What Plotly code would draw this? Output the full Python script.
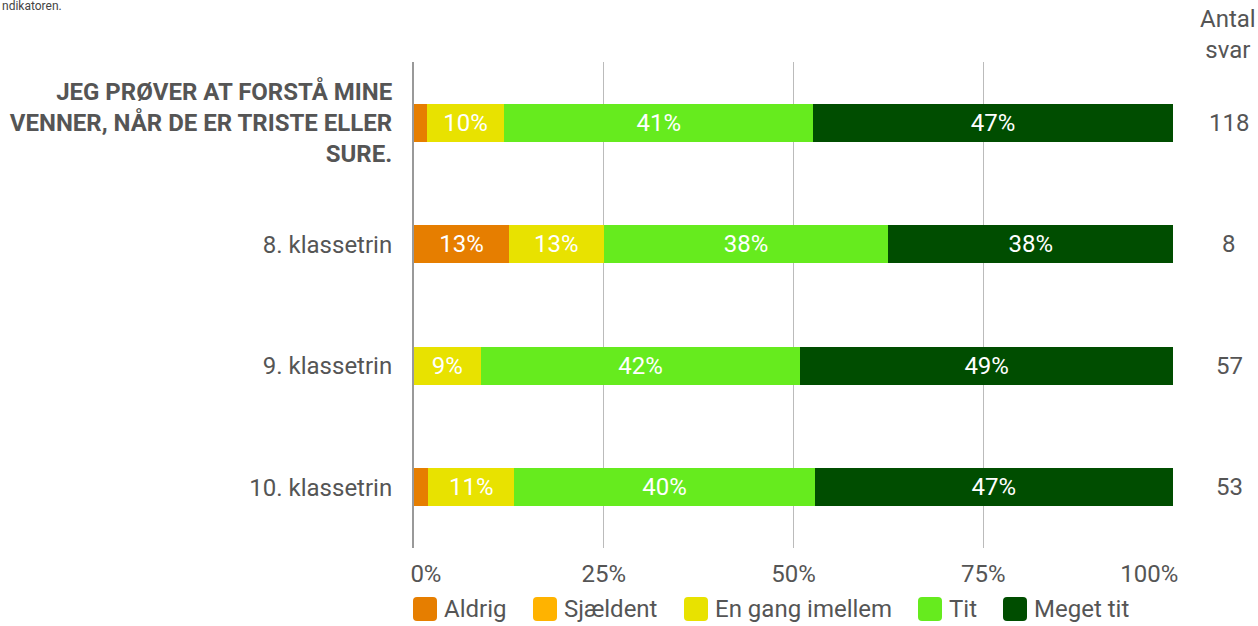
import plotly.graph_objects as go

categories = [
    "<b>JEG PRØVER AT FORSTÅ MINE<br>VENNER, NÅR DE ER TRISTE ELLER<br>SURE.</b>",
    "8. klassetrin",
    "9. klassetrin",
    "10. klassetrin",
]
series_names = ["Aldrig", "Sjældent", "En gang imellem", "Tit", "Meget tit"]
aldrig = [1.7, 12.5, 0.0, 1.9]
sjaeldent = [0.0, 0.0, 0.0, 0.0]
en_gang = [10.2, 12.5, 8.8, 11.3]
tit = [40.7, 37.5, 42.1, 39.6]
meget_tit = [47.4, 37.5, 49.1, 47.2]
antal_svar = [118, 8, 57, 53]
x_ticks = [0, 25, 50, 75, 100]
x_ticktext = ["0%", "25%", "50%", "75%", "100%"]

colors = ["#E67E00", "#FFB300", "#E8E200", "#66EB1E", "#004D00"]
series = [aldrig, sjaeldent, en_gang, tit, meget_tit]

FONT = "Roboto"
GREY = "#555555"
W, H = 1258, 626
ML, MR, MT, MB = 414, 85, 62, 78
PW, PH = W - ML - MR, H - MT - MB
NBSP = "\u00a0"


def px_x(px):
    return (px - ML) / PW


def px_y(py):
    return (H - MB - py) / PH


fig = go.Figure()
for name, vals, col in zip(series_names, series, colors):
    labels = [f"{int(v + 0.5)}%" if v >= 5 else "" for v in vals]
    fig.add_trace(go.Bar(
        y=categories, x=vals, name=name, orientation="h",
        marker=dict(color=col, line=dict(width=0)),
        text=labels, textposition="inside", insidetextanchor="middle",
        textangle=0, constraintext="none",
        textfont=dict(color="white", size=24, family=FONT),
        hoverinfo="skip", showlegend=False,
    ))

annotations = []
for cat, n in zip(categories, antal_svar):
    annotations.append(dict(
        x=px_x(1229), xref="paper", y=cat, yref="y", text=str(n), showarrow=False,
        xanchor="center", yanchor="middle",
        font=dict(size=24, color=GREY, family=FONT)))
annotations.append(dict(
    x=px_x(1228), xref="paper", y=px_y(34), yref="paper", text="Antal<br>svar",
    showarrow=False, xanchor="center", yanchor="middle", align="center",
    font=dict(size=24, color=GREY, family=FONT)))
annotations.append(dict(
    x=px_x(0), xref="paper", y=px_y(6), yref="paper", text="ndikatoren.",
    showarrow=False, xanchor="left", yanchor="middle",
    font=dict(size=12, color="#444444", family=FONT)))

# custom legend (larger rounded swatches like the reference)
legend_x = [413, 533, 684, 918, 1003]
legend_top = 597
legend_mid = 609
shapes = []
r = 4
s = 24
for name, col, lx in zip(series_names, colors, legend_x):
    x0 = lx - ML
    x1 = x0 + s
    y1 = (H - MB) - legend_top  # top edge, pixels up from plot bottom
    y0 = y1 - s
    path = (f"M{x0 + r},{y0} L{x1 - r},{y0} Q{x1},{y0} {x1},{y0 + r} "
            f"L{x1},{y1 - r} Q{x1},{y1} {x1 - r},{y1} L{x0 + r},{y1} "
            f"Q{x0},{y1} {x0},{y1 - r} L{x0},{y0 + r} Q{x0},{y0} {x0 + r},{y0} Z")
    shapes.append(dict(type="path", xref="paper", yref="paper",
                       xsizemode="pixel", ysizemode="pixel", xanchor=0, yanchor=0,
                       path=path, fillcolor=col, line=dict(width=0), layer="above"))
    annotations.append(dict(
        x=px_x(lx + s + 5), xref="paper", y=px_y(legend_mid), yref="paper", text=name,
        showarrow=False, xanchor="left", yanchor="middle",
        font=dict(size=24, color=GREY, family=FONT)))

# end tick labels sit inside the plot edges, as in the reference
tick_labels = list(x_ticktext)
tick_labels[0] = NBSP * 4 + tick_labels[0]
tick_labels[-1] = tick_labels[-1] + NBSP * 8

fig.update_layout(
    width=W, height=H,
    margin=dict(l=ML, r=MR, t=MT, b=MB, pad=0, autoexpand=False),
    barmode="stack", bargap=0.69,
    plot_bgcolor="white", paper_bgcolor="white",
    font=dict(family=FONT, size=24, color=GREY),
    showlegend=False,
    annotations=annotations,
    shapes=shapes,
)
fig.update_xaxes(range=[0, 100], tickvals=x_ticks, ticktext=tick_labels,
                 showgrid=True, gridcolor="#BBBBBB", gridwidth=1,
                 zeroline=False, showline=False, ticks="", automargin=False,
                 ticklabelstandoff=9, fixedrange=True,
                 tickfont=dict(size=24, color=GREY, family=FONT))
fig.update_yaxes(autorange="reversed", showgrid=False, showline=True,
                 linecolor="#999999", linewidth=2, ticks="", automargin=False,
                 ticklabelstandoff=15, fixedrange=True,
                 tickfont=dict(size=24, color=GREY, family=FONT))

fig.write_html("out.html", config={"displayModeBar": False},
               post_script="document.body.style.margin='0';")
